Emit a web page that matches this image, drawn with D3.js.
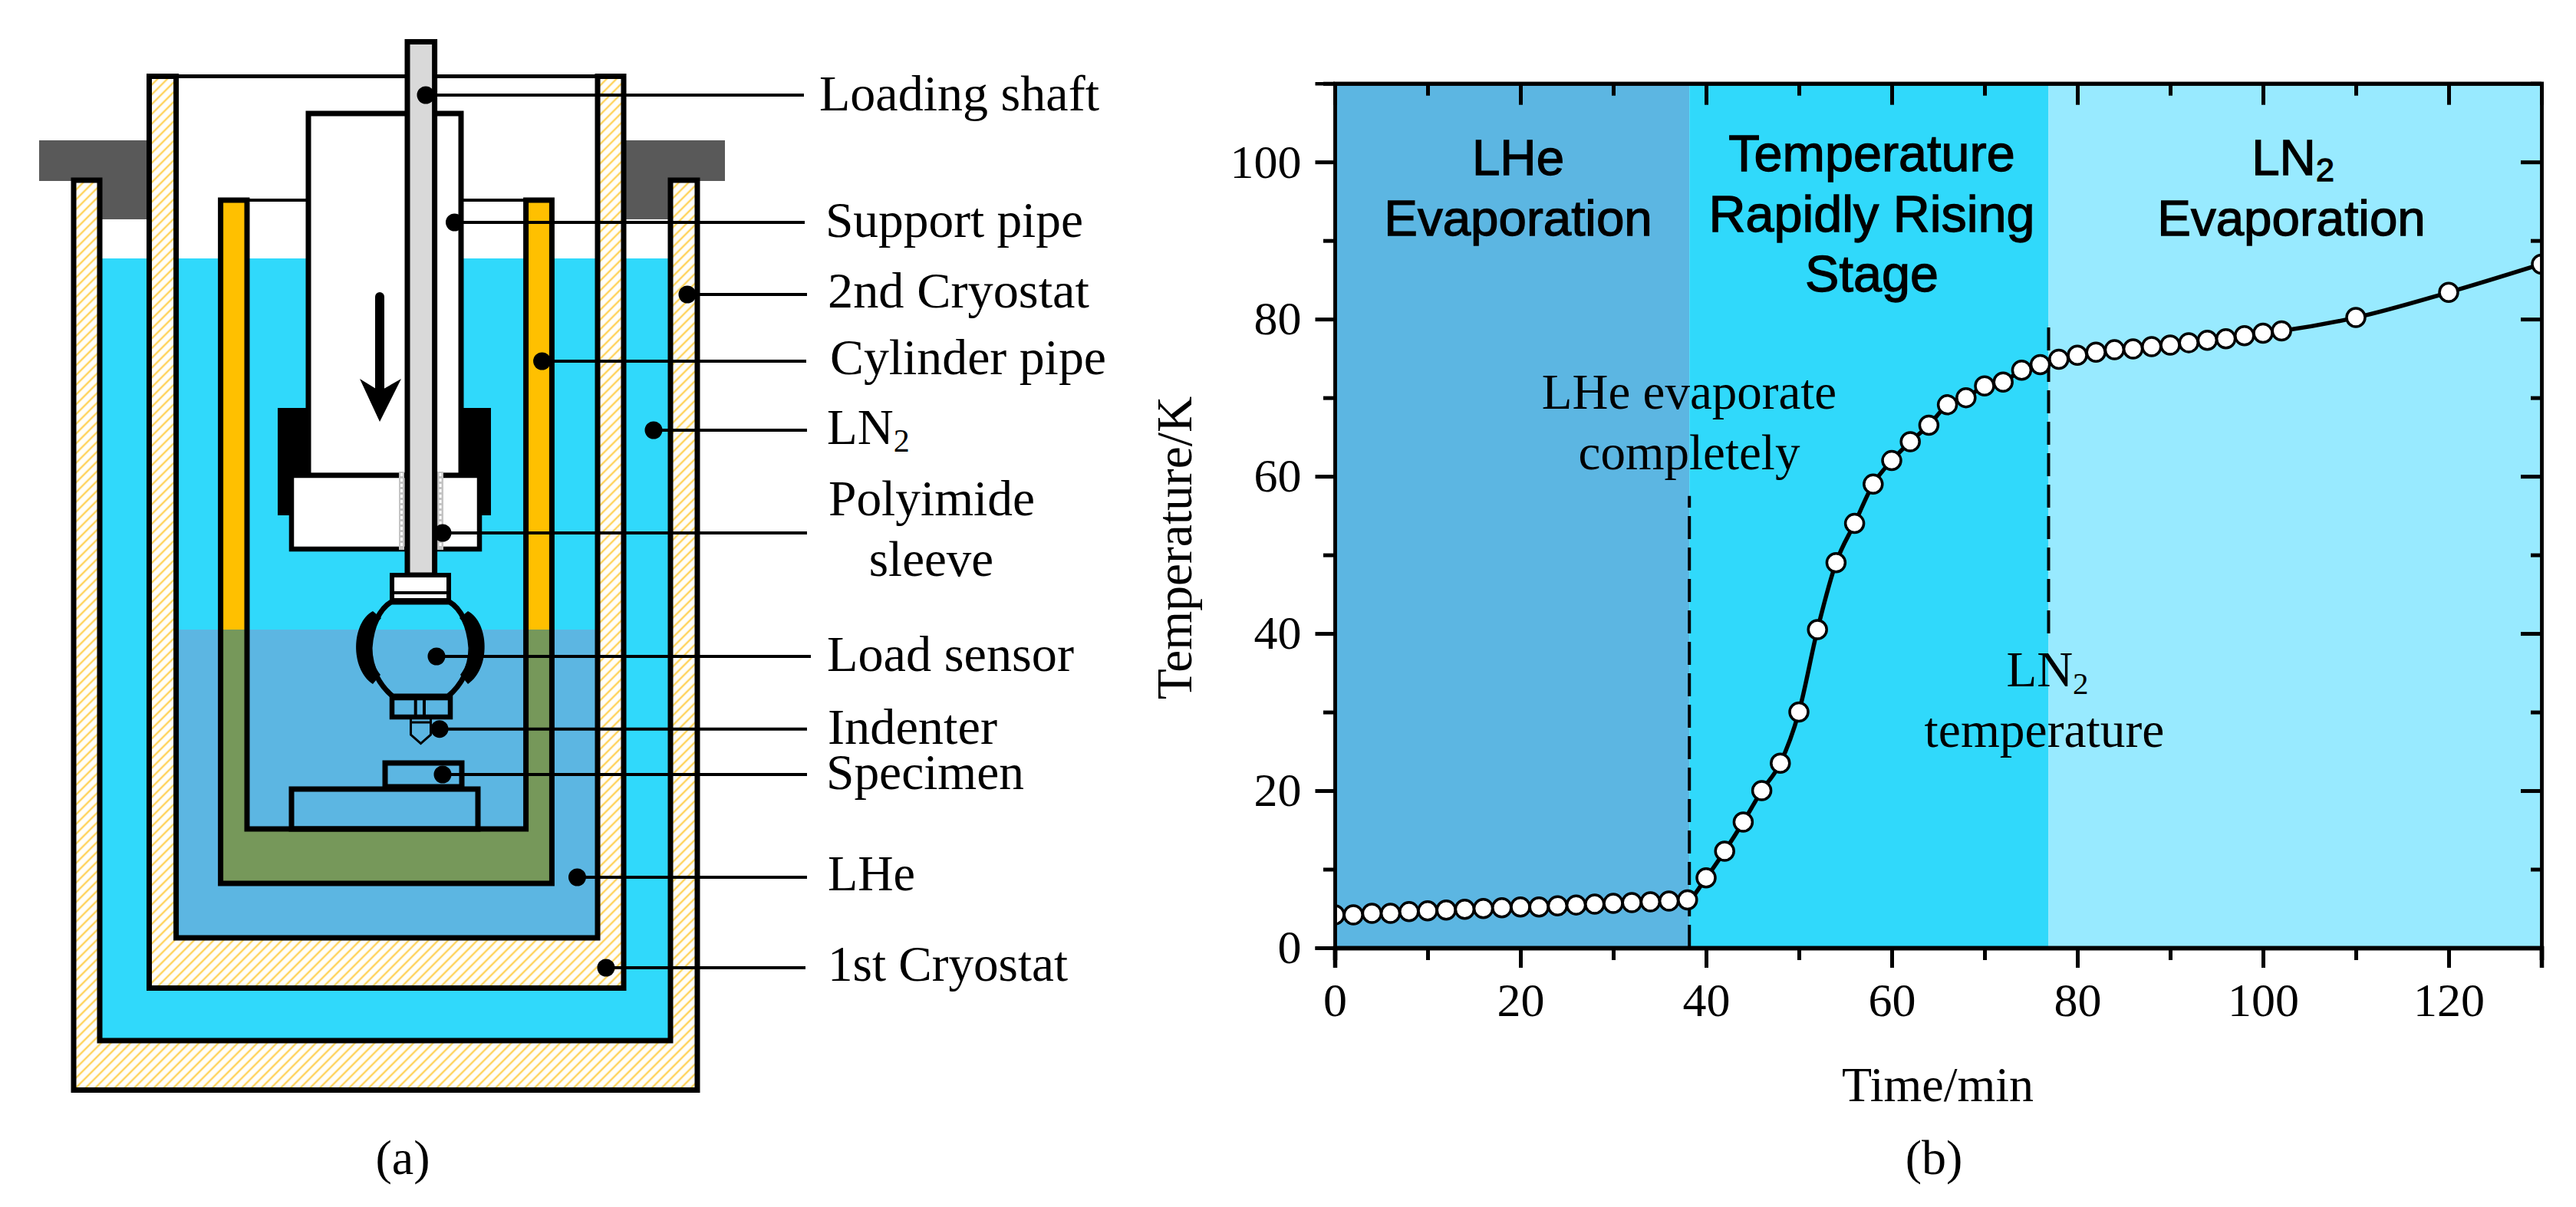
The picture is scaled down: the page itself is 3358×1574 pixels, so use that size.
<!DOCTYPE html>
<html>
<head>
<meta charset="utf-8">
<script src="https://cdn.jsdelivr.net/npm/d3@7"></script>
<style>
html,body{margin:0;padding:0;background:#fff}
svg{display:block}
.serif{font-family:"Liberation Serif","Times New Roman",serif;fill:#000}
.sans{font-family:"Liberation Sans",Arial,sans-serif;fill:#000;stroke:#000;stroke-width:1.3px}
</style>
</head>
<body>
<svg id="fig" width="3358" height="1574" viewBox="0 0 3358 1574"></svg>
<script>
// ---- chart data (panel b) ----
const timeMin = [0,2,4,6,8,10,12,14,16,18,20,22,24,26,28,30,32,34,36,38,
  40,42,44,46,48,50,52,54,56,58,60,62,64,66,68,70,72,74,76,78,80,82,84,86,88,90,92,94,96,98,100,102,110,120,130];
const temperatureK = [4.2,4.2,4.4,4.4,4.6,4.7,4.8,4.9,5.0,5.1,5.2,5.2,5.35,5.45,5.55,5.65,5.75,5.85,5.95,6.1,
  8.9,12.3,16.0,20.0,23.5,30.0,40.5,49.0,54.0,59.0,62.0,64.4,66.5,69.1,70.0,71.5,72.0,73.5,74.2,74.9,75.4,75.8,76.1,76.2,76.5,76.7,77.0,77.3,77.5,77.9,78.2,78.5,80.2,83.4,87.0];
const stageBreaks = [0,38.2,76.9,130];
const stageColors = ["#5cb6e2","#30d9fb","#98eaff"];
const xMajorTicks = [0,20,40,60,80,100,120];
const xMinorTicks = [10,30,50,70,90,110,130];
const yMajorTicks = [0,20,40,60,80,100];
const yMinorTicks = [10,30,50,70,90,110];
const xAxisTitle = "Time/min";
const yAxisTitle = "Temperature/K";
const completeMark = {time:38.2, from:0, to:57.5};
const lnMark = {time:76.9, from:40, to:80};

// ---- schematic labels (panel a) ----
const calloutNames = ["Loading shaft","Support pipe","2nd Cryostat","Cylinder pipe","LN","Polyimide","Load sensor","Indenter","Specimen","LHe","1st Cryostat"];

const svg = d3.select("#fig");
const defs = svg.append("defs");

const hatch = defs.append("pattern").attr("id","hatch").attr("patternUnits","userSpaceOnUse")
  .attr("width",9).attr("height",9).attr("patternTransform","rotate(45)");
hatch.append("rect").attr("width",9).attr("height",9).attr("fill","#fffefa");
hatch.append("line").attr("x1",2).attr("x2",2).attr("y1",0).attr("y2",9).attr("stroke","#ffd35c").attr("stroke-width",2.4);

// ================= Panel (a) =================
const a = svg.append("g").attr("id","schematic");
const BLACK="#000", W=7;
function rect(x0,y0,x1,y1,fill,stroke,sw){
  return a.append("rect").attr("x",x0).attr("y",y0).attr("width",x1-x0).attr("height",y1-y0)
    .attr("fill",fill||"none").attr("stroke",stroke||"none").attr("stroke-width",sw||0);
}
function path(d,fill,stroke,sw){
  return a.append("path").attr("d",d).attr("fill",fill||"none").attr("stroke",stroke||"none")
    .attr("stroke-width",sw||0).attr("stroke-linejoin","miter");
}
// LN2 bath
rect(130,337,874,1357,"#30d9fb");
// flange
path("M51,183H191V286H131V236H51Z","#595959");
path("M816,183H945V236H874V286H816Z","#595959");
// second cryostat wall
path("M96,235V1421.5H909V235H874V1357H130V235Z","url(#hatch)",BLACK,W);
// LHe bath
rect(229.6,821,779,1223,"#5cb6e2");
// first cryostat wall
path("M194.5,99.5V1288.5H813V99.5H779V1223H229.6V99.5Z","url(#hatch)",BLACK,W);
a.append("line").attr("x1",229).attr("x2",779).attr("y1",99.5).attr("y2",99.5).attr("stroke",BLACK).attr("stroke-width",5);
// cylinder pipe
const pipe="M287.6,261V1152H719.4V261H685.6V1081H322V261Z";
path(pipe,"#ffc000");
defs.append("clipPath").attr("id","under").append("rect").attr("x",200).attr("y",821).attr("width",600).attr("height",400);
path(pipe,"#76985a").attr("clip-path","url(#under)");
path(pipe,"none",BLACK,W);
[[322,402],[601,685.6]].forEach(d=>a.append("line").attr("x1",d[0]).attr("x2",d[1]).attr("y1",261).attr("y2",261).attr("stroke",BLACK).attr("stroke-width",4));
// support pipe
rect(402,148,601,620,"#fff",BLACK,W);
// clamps
path("M362,532H403V617H383V672H362Z",BLACK);
path("M640,532H598V617H622V672H640Z",BLACK);
// lower block
rect(380,620,625,716,"#fff",BLACK,6.5);
// polyimide sleeve
[[520,527],[570,578]].forEach(d=>{
  rect(d[0],615,d[1],717,"#c4c4c4");
  a.append("line").attr("x1",(d[0]+d[1])/2).attr("x2",(d[0]+d[1])/2).attr("y1",617).attr("y2",715)
    .attr("stroke","#fff").attr("stroke-width",3).attr("stroke-dasharray","4 3");
});
// shaft
rect(531,54.5,566.6,750,"#d9d9d9",BLACK,W);
// arrow
a.append("line").attr("x1",495).attr("x2",495).attr("y1",387).attr("y2",510).attr("stroke",BLACK).attr("stroke-width",12).attr("stroke-linecap","round");
path("M469,494L495,510L523,494L495,550Z",BLACK);
// load sensor
rect(511,750,585,783,"#fff",BLACK,6);
a.append("line").attr("x1",511).attr("x2",585).attr("y1",773).attr("y2",773).attr("stroke",BLACK).attr("stroke-width",4);
path("M510,785H586C600,793 612,815 614,845C614,872 600,895 584,908H512C496,895 482,872 482,845C484,815 496,793 510,785Z","none",BLACK,7);
path("M486,797C458,812 456,872 486,892L496,880C480,860 478,825 497,806Z",BLACK);
path("M610,797C638,812 640,872 610,892L600,880C616,860 618,825 599,806Z",BLACK);
rect(511,910,587,935,"none",BLACK,6.5);
[541.7,553].forEach(x=>a.append("line").attr("x1",x).attr("x2",x).attr("y1",910).attr("y2",935).attr("stroke",BLACK).attr("stroke-width",4));
path("M535.5,937V958L548.5,969.5L561.5,958V937",null,BLACK,3);
a.append("line").attr("x1",535).attr("x2",562).attr("y1",942).attr("y2",942).attr("stroke",BLACK).attr("stroke-width",3);
// specimen + stage
rect(502,995,602,1026,"none",BLACK,W);
rect(380,1029,623,1081,"none",BLACK,W);

// callouts
const calloutDotX=[555,592.5,896,706.6,852,577,569,573,577,752.5,790];
const calloutY=[124,290,384,471,561,695,856,950.7,1010,1144,1262];
const calloutEnd=[1048,1049,1052,1051,1052,1052,1057,1052,1052,1052,1050];
const labelX=[1068,1076,1079,1082,1078,1080,1078,1079,1077,1079,1079];
const labelY=[144,309,400.5,488,579,672,875,970,1029,1161,1279];
const labelW=[365,336,341,360,null,269,322,221,258,114,313];
calloutNames.forEach((name,i)=>{
  a.append("line").attr("x1",calloutDotX[i]).attr("x2",calloutEnd[i]).attr("y1",calloutY[i]).attr("y2",calloutY[i]).attr("stroke",BLACK).attr("stroke-width",4);
  a.append("circle").attr("cx",calloutDotX[i]).attr("cy",calloutY[i]).attr("r",11.5).attr("fill",BLACK);
  const t=a.append("text").attr("class","serif").attr("x",labelX[i]).attr("y",labelY[i]).attr("font-size",65).text(name);
  if(labelW[i]) t.attr("textLength",labelW[i]).attr("lengthAdjust","spacingAndGlyphs");
  if(name==="LN") t.append("tspan").attr("dy",10).attr("font-size",42).text("2");
});
a.append("text").attr("class","serif").attr("x",1214).attr("y",751).attr("font-size",65).attr("text-anchor","middle").text("sleeve");
a.append("text").attr("class","serif").attr("x",525).attr("y",1531).attr("font-size",64).attr("text-anchor","middle").text("(a)");

// ================= Panel (b) =================
const L=1740,R=3313,T=108.7,B=1236;
const x=d3.scaleLinear().domain([0,130]).range([L,R]);
const y=d3.scaleLinear().domain([0,110]).range([B,T]);
const b=svg.append("g").attr("id","chart");

b.selectAll("rect.stage").data(stageColors).join("rect").attr("class","stage")
  .attr("x",(d,i)=>x(stageBreaks[i])).attr("width",(d,i)=>x(stageBreaks[i+1])-x(stageBreaks[i]))
  .attr("y",T).attr("height",B-T).attr("fill",d=>d);

[completeMark,lnMark].forEach(m=>{
  b.append("line").attr("x1",x(m.time)).attr("x2",x(m.time)).attr("y1",y(m.from)).attr("y2",y(m.to))
   .attr("stroke","#000").attr("stroke-width",4).attr("stroke-dasharray","30 11");
});

defs.append("clipPath").attr("id","plotClip").append("rect").attr("x",L).attr("y",T).attr("width",R-L).attr("height",B-T);
const plot=b.append("g").attr("clip-path","url(#plotClip)");
const pts=timeMin.map((t,i)=>[t,temperatureK[i]]);
plot.append("path").datum(pts).attr("fill","none").attr("stroke","#000").attr("stroke-width",5.5)
  .attr("d",d3.line().x(d=>x(d[0])).y(d=>y(d[1])).curve(d3.curveMonotoneX));
plot.selectAll("circle").data(pts).join("circle").attr("cx",d=>x(d[0])).attr("cy",d=>y(d[1])).attr("r",12)
  .attr("fill","#fff").attr("stroke","#000").attr("stroke-width",3.5);

function styleAxis(g,sw){
  g.select(".domain").attr("stroke","#000").attr("stroke-width",sw);
  g.selectAll(".tick line").attr("stroke","#000").attr("stroke-width",5);
  g.selectAll("text").attr("class","serif").attr("fill","#000").attr("font-size",62);
}
const gx=(ax,yy,sw)=>{const g=b.append("g").attr("transform",`translate(0,${yy})`).attr("font-family",null).call(ax);styleAxis(g,sw);return g;};
const gy=(ax,xx,sw)=>{const g=b.append("g").attr("transform",`translate(${xx},0)`).attr("font-family",null).call(ax);styleAxis(g,sw);return g;};

// minor ticks
gx(d3.axisBottom(x).tickValues(xMinorTicks).tickSize(16).tickFormat(""),B,5.5);
gx(d3.axisTop(x).tickValues(xMinorTicks).tickSize(-16).tickFormat(""),T,5);
gy(d3.axisLeft(y).tickValues(yMinorTicks).tickSize(15).tickFormat(""),L,4.5);
gy(d3.axisRight(y).tickValues(yMinorTicks).tickSize(-14).tickFormat(""),R,4.5);
// major ticks
const xb=gx(d3.axisBottom(x).tickValues(xMajorTicks).tickSize(26).tickFormat(d3.format("d")),B,5.5);
xb.selectAll("text").attr("y",89).attr("dy",0);
gx(d3.axisTop(x).tickValues(xMajorTicks).tickSize(-28).tickFormat(""),T,5);
const yl=gy(d3.axisLeft(y).tickValues(yMajorTicks).tickSize(25.5).tickFormat(d3.format("d")),L,4.5);
yl.selectAll("text").attr("x",-43.5).attr("dy",".32em");
gy(d3.axisRight(y).tickValues(yMajorTicks).tickSize(-27).tickFormat(""),R,4.5);

function label(cls,cx,by,size,txt){
  return b.append("text").attr("class",cls).attr("x",cx).attr("y",by).attr("font-size",size).attr("text-anchor","middle").text(txt);
}
label("serif",2526,1436,64,xAxisTitle);
b.append("text").attr("class","serif").attr("transform","translate(1553,714.5) rotate(-90)").attr("font-size",65.5).attr("text-anchor","middle").text(yAxisTitle);
label("serif",2521,1531,64,"(b)");

label("sans",1979,228,65.5,"LHe");
label("sans",1979,307,65.5,"Evaporation");
label("sans",2440,223,66.5,"Temperature");
label("sans",2440,302,66.5,"Rapidly Rising");
label("sans",2440,380,66.5,"Stage");
const h=label("sans",2989,228,65.5,"LN");
h.append("tspan").attr("dy",8).attr("font-size",43).text("2");
label("sans",2987,307,65.5,"Evaporation");

label("serif",2202,533,65,"LHe evaporate");
label("serif",2202,612,65,"completely");
const s=label("serif",2669,894.5,65,"LN");
s.append("tspan").attr("dy",10).attr("font-size",41).text("2");
label("serif",2665,974,65.5,"temperature");
</script>
</body>
</html>
